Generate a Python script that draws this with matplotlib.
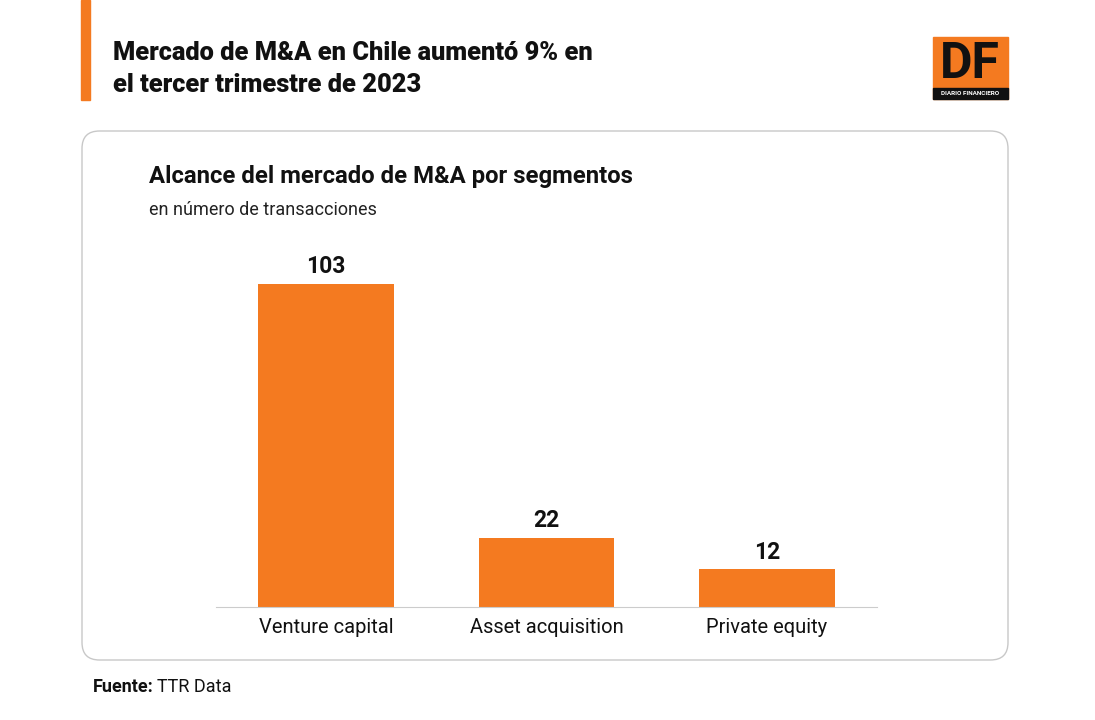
import matplotlib.pyplot as plt
from matplotlib.patches import FancyBboxPatch, Rectangle

plt.rcParams['font.family'] = ['Roboto', 'DejaVu Sans']

categories = ['Venture capital', 'Asset acquisition', 'Private equity']
values = [103, 22, 12]

title = 'Mercado de M&A en Chile aumentó 9% en\nel tercer trimestre de 2023'
subtitle = 'Alcance del mercado de M&A por segmentos'
unit_note = 'en número de transacciones'

ORANGE = '#F47A20'
W, H = 1095, 720


def fx(x):
    return x / W


def fy(y):
    return 1 - y / H


fig = plt.figure(figsize=(W / 100, H / 100), dpi=100)

# orange accent bar and header
fig.patches.append(Rectangle((fx(81), fy(100)), fx(9), 100 / H, color=ORANGE,
                             transform=fig.transFigure, figure=fig))
fig.text(fx(113), fy(69), title, fontsize=18.3, fontweight='black', va='center',
         ha='left', color='#111111', linespacing=1.42)

# DF logo
fig.patches.append(Rectangle((fx(933), fy(99)), fx(75), 62 / H, color=ORANGE,
                             transform=fig.transFigure, figure=fig))
fig.patches.append(Rectangle((fx(933), fy(99)), fx(75), 11 / H, color='#111111',
                             transform=fig.transFigure, figure=fig))
fig.text(fx(970), fy(64), 'DF', fontsize=36, fontweight='bold', ha='center',
         va='center', color='#111111')
fig.text(fx(970), fy(93.5), 'DIARIO FINANCIERO', fontsize=4.6, fontweight='bold',
         ha='center', va='center', color='white')

# rounded box
fig.patches.append(FancyBboxPatch((fx(82), fy(660)), fx(926), 529 / H,
                                  boxstyle='round,pad=0,rounding_size=0.016',
                                  facecolor='white', edgecolor='#C8C8C8', lw=1,
                                  transform=fig.transFigure, figure=fig,
                                  mutation_aspect=W / H, zorder=-1))

fig.text(fx(149), fy(176), subtitle, fontsize=17.2, fontweight='bold',
         ha='left', va='center', color='#111111')
fig.text(fx(149), fy(210), unit_note, fontsize=13, ha='left', va='center',
         color='#222222')

fig.text(fx(93), fy(687), 'Fuente:', fontsize=13, fontweight='bold',
         ha='left', va='center', color='#111111')
fig.text(fx(157), fy(687), 'TTR Data', fontsize=13, ha='left', va='center',
         color='#111111')

ax = fig.add_axes([fx(216), fy(607), fx(877 - 216), (607 - 250) / H])
ax.set_zorder(2)
x = range(len(categories))
bars = ax.bar(x, values, width=0.615, color=ORANGE)
ax.set_xlim(-0.5, 2.5)
ax.set_ylim(0, 113.8)
for b, v in zip(bars, values):
    ax.text(b.get_x() + b.get_width() / 2, v + 1.8, str(v), ha='center',
            va='bottom', fontsize=16.5, fontweight='bold', color='#111111')
ax.set_xticks(list(x))
ax.set_xticklabels(categories, fontsize=14.5, color='#111111')
ax.tick_params(axis='x', length=0, pad=8)
ax.set_yticks([])
for s in ['top', 'right', 'left']:
    ax.spines[s].set_visible(False)
ax.spines['bottom'].set_color('#CCCCCC')
ax.patch.set_alpha(0)

fig.savefig('out.png', dpi=100)
